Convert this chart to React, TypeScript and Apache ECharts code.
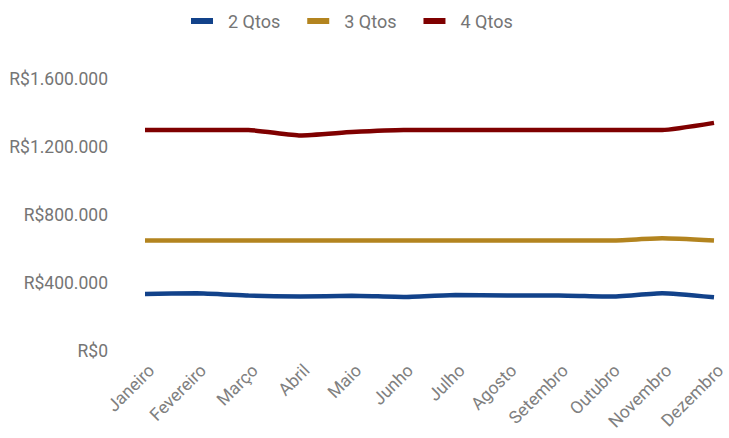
import React, { useEffect, useRef } from "react";
import * as echarts from "echarts";

const months = ["Janeiro", "Fevereiro", "Março", "Abril", "Maio", "Junho", "Julho", "Agosto", "Setembro", "Outubro", "Novembro", "Dezembro"];
const qtos2 = [335000, 340000, 326000, 320000, 325000, 318000, 330000, 327000, 327000, 320000, 340000, 316000];
const qtos3 = [650000, 650000, 650000, 650000, 650000, 650000, 650000, 650000, 650000, 650000, 663000, 650000];
const qtos4 = [1300000, 1300000, 1300000, 1268000, 1288000, 1300000, 1300000, 1300000, 1300000, 1300000, 1300000, 1342000];

const fmt = (v: number) => "R$" + Math.round(v).toString().replace(/\B(?=(\d{3})+(?!\d))/g, ".");

export default function App() {
  const ref = useRef<HTMLDivElement>(null);
  useEffect(() => {
    if (!ref.current) return;
    const chart = echarts.init(ref.current, null, { renderer: "svg" });
    const mk = (name: string, data: number[], color: string) => ({
      name,
      type: "line",
      data,
      smooth: 0.15,
      symbol: "none",
      lineStyle: { width: 4.5, color },
      itemStyle: { color },
    });
    chart.setOption({
      animation: false,
      textStyle: { fontFamily: "Roboto" },
      legend: {
        top: 7,
        left: 186,
        itemWidth: 22,
        itemHeight: 6,
        itemGap: 27,
        icon: "rect",
        textStyle: { color: "#757575", fontSize: 18, fontFamily: "Roboto", padding: [0, 0, 0, 10] },
        data: ["2 Qtos", "3 Qtos", "4 Qtos"],
      },
      grid: { left: 145, right: 15, top: 79, bottom: 87, containLabel: false },
      xAxis: {
        type: "category",
        data: months,
        boundaryGap: false,
        axisLine: { show: false },
        axisTick: { show: false },
        axisLabel: { rotate: 45, color: "#808080", fontSize: 17.5, margin: 10, verticalAlign: "top", interval: 0, fontFamily: "Roboto" },
      },
      yAxis: {
        type: "value",
        min: 0,
        max: 1600000,
        interval: 400000,
        splitLine: { show: false },
        axisLine: { show: false },
        axisTick: { show: false },
        axisLabel: { color: "#757575", fontSize: 17.5, margin: 37, formatter: fmt, fontFamily: "Roboto" },
      },
      series: [mk("2 Qtos", qtos2, "#12428a"), mk("3 Qtos", qtos3, "#b3841f"), mk("4 Qtos", qtos4, "#7f0000")],
    });
    return () => chart.dispose();
  }, []);
  return <div ref={ref} style={{ width: 729, height: 438, position: "absolute", left: 0, top: 0 }} />;
}
